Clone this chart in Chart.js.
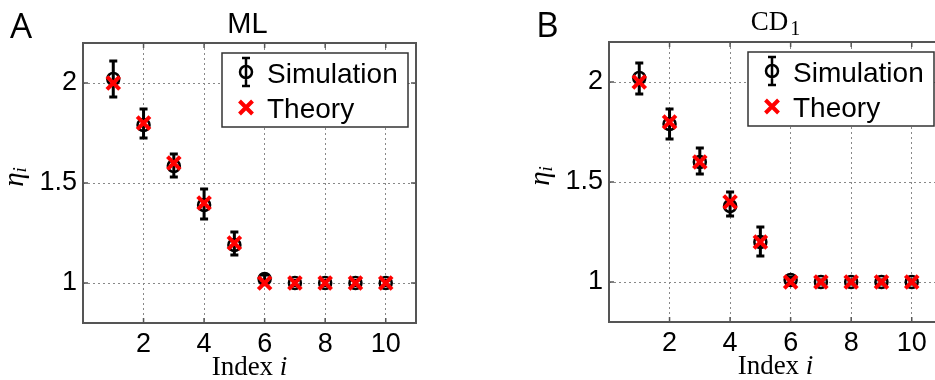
<!DOCTYPE html>
<html>
<head>
<meta charset="utf-8">
<script src="https://cdn.jsdelivr.net/npm/chart.js@4"></script>
<style>
  html, body { margin: 0; padding: 0; background: #fff; overflow: hidden; }
  body { width: 935px; height: 380px; position: relative; }
  canvas { position: absolute; }
  #chartA { left: 0; top: 0; }
  #chartB { left: 526px; top: -1px; }
</style>
</head>
<body>
<canvas id="chartA" width="470" height="380"></canvas>
<canvas id="chartB" width="470" height="380"></canvas>
<script>
// Data
const indexValues = [1, 2, 3, 4, 5, 6, 7, 8, 9, 10];
const theoryValues = [2, 1.8, 1.6, 1.4, 1.2, 1, 1, 1, 1, 1];

// ML simulation: mean and error bar ends
const mlMean = [2.02, 1.79, 1.585, 1.39, 1.19, 1.02, 1, 1, 1, 1];
const mlLow  = [1.93, 1.725, 1.53, 1.32, 1.14, 1.0, 0.988, 0.988, 0.988, 0.988];
const mlHigh = [2.11, 1.87, 1.645, 1.47, 1.255, 1.04, 1.012, 1.012, 1.012, 1.012];

// CD1 simulation
const cdMean = [2.02, 1.79, 1.6, 1.38, 1.2, 1.01, 1, 1, 1, 1];
const cdLow  = [1.94, 1.715, 1.54, 1.33, 1.13, 0.995, 0.99, 0.99, 0.99, 0.99];
const cdHigh = [2.095, 1.865, 1.67, 1.45, 1.275, 1.025, 1.01, 1.01, 1.01, 1.01];

const xTicks = [2, 4, 6, 8, 10];
const yTicks = [1, 1.5, 2];
const legendLabels = ["Simulation", "Theory"];

const RED = "#ff0000";

// error bars + frame, drawn under the markers
const panelPlugin = {
  id: "panel",
  beforeDatasetsDraw(chart, args, opts) {
    const ctx = chart.ctx;
    const xs = chart.scales.x, ys = chart.scales.y;
    const a = chart.chartArea;
    ctx.save();
    // frame
    ctx.strokeStyle = "#555";
    ctx.lineWidth = 2;
    ctx.strokeRect(a.left, a.top, a.right - a.left, a.bottom - a.top);
    // inward ticks
    ctx.lineWidth = 1.5;
    ctx.beginPath();
    xTicks.forEach(v => {
      const px = xs.getPixelForValue(v);
      ctx.moveTo(px, a.bottom); ctx.lineTo(px, a.bottom - 5);
      ctx.moveTo(px, a.top); ctx.lineTo(px, a.top + 5);
    });
    yTicks.forEach(v => {
      const py = ys.getPixelForValue(v);
      ctx.moveTo(a.left, py); ctx.lineTo(a.left + 5, py);
      ctx.moveTo(a.right, py); ctx.lineTo(a.right - 5, py);
    });
    ctx.stroke();
    // error bars
    ctx.strokeStyle = "#000";
    ctx.lineWidth = 3;
    ctx.beginPath();
    opts.low.forEach((lo, i) => {
      const px = xs.getPixelForValue(indexValues[i]);
      const y1 = ys.getPixelForValue(lo);
      const y2 = ys.getPixelForValue(opts.high[i]);
      ctx.moveTo(px, y1); ctx.lineTo(px, y2);
      ctx.moveTo(px - 4, y1); ctx.lineTo(px + 4, y1);
      ctx.moveTo(px - 4, y2); ctx.lineTo(px + 4, y2);
    });
    ctx.stroke();
    ctx.restore();
  },
  afterDraw(chart, args, opts) {
    const ctx = chart.ctx;
    const a = chart.chartArea;
    ctx.save();
    // panel letter
    ctx.fillStyle = "#000";
    ctx.font = "35px 'Open Sans'";
    ctx.textAlign = "left";
    ctx.textBaseline = "alphabetic";
    ctx.fillText(opts.letter, 10, 38);
    // title
    const cx = (a.left + a.right) / 2;
    if (opts.sub) {
      ctx.font = "27px 'Liberation Serif'";
      const w1 = ctx.measureText(opts.title).width;
      ctx.font = "20px 'Liberation Serif'";
      const w2 = ctx.measureText(opts.sub).width;
      const x0 = cx - (w1 + w2 + 2) / 2;
      ctx.font = "27px 'Liberation Serif'";
      ctx.fillText(opts.title, x0, 31);
      ctx.font = "20px 'Liberation Serif'";
      ctx.fillText(opts.sub, x0 + w1 + 2, 36);
    } else {
      ctx.font = "29px 'Liberation Sans'";
      ctx.textAlign = "center";
      ctx.fillText(opts.title, cx - 2, 33);
    }
    // x title: Index i
    ctx.textAlign = "left";
    ctx.font = "27px 'Liberation Serif'";
    const wi = ctx.measureText("Index ").width;
    ctx.font = "italic 27px 'Liberation Serif'";
    const wj = ctx.measureText("i").width;
    const xt = cx - (wi + wj) / 2;
    ctx.font = "27px 'Liberation Serif'";
    ctx.fillText("Index ", xt, 375);
    ctx.font = "italic 27px 'Liberation Serif'";
    ctx.fillText("i", xt + wi, 375);
    // y title: eta_i, rotated
    ctx.save();
    ctx.translate(23, 177);
    ctx.rotate(-Math.PI / 2);
    ctx.font = "italic 29px 'Liberation Serif'";
    const we = ctx.measureText("\u03b7").width;
    ctx.font = "italic 19px 'Liberation Serif'";
    const ws = ctx.measureText("i").width;
    ctx.font = "italic 29px 'Liberation Serif'";
    ctx.fillText("\u03b7", -(we + ws) / 2, 0);
    ctx.font = "italic 19px 'Liberation Serif'";
    ctx.fillText("i", -(we + ws) / 2 + we, 3);
    ctx.restore();
    // legend box
    const bx = a.right - 194, by = a.top + 10, bw = 186, bh = 74;
    ctx.fillStyle = "#fff";
    ctx.fillRect(bx, by, bw, bh);
    ctx.strokeStyle = "#333";
    ctx.lineWidth = 1.5;
    ctx.strokeRect(bx, by, bw, bh);
    const sx = bx + 24;
    // simulation symbol
    ctx.strokeStyle = "#000";
    ctx.lineWidth = 2.5;
    ctx.beginPath();
    ctx.arc(sx, by + 19, 6, 0, Math.PI * 2);
    ctx.moveTo(sx, by + 5); ctx.lineTo(sx, by + 33);
    ctx.moveTo(sx - 4, by + 5); ctx.lineTo(sx + 4, by + 5);
    ctx.moveTo(sx - 4, by + 33); ctx.lineTo(sx + 4, by + 33);
    ctx.stroke();
    // theory symbol
    ctx.strokeStyle = RED;
    ctx.lineWidth = 4;
    ctx.beginPath();
    ctx.moveTo(sx - 6.5, by + 48); ctx.lineTo(sx + 6.5, by + 61);
    ctx.moveTo(sx + 6.5, by + 48); ctx.lineTo(sx - 6.5, by + 61);
    ctx.stroke();
    ctx.fillStyle = "#000";
    ctx.font = "28px 'Liberation Sans'";
    ctx.fillText(legendLabels[0], bx + 45, by + 30);
    ctx.fillText(legendLabels[1], bx + 45, by + 65);
    ctx.restore();
  }
};

function makePanel(id, letter, title, sub, mean, low, high) {
  return new Chart(id, {
    type: "scatter",
    data: {
      datasets: [
        {
          label: legendLabels[0],
          data: indexValues.map((x, i) => ({ x: x, y: mean[i] })),
          pointStyle: "circle",
          pointRadius: 6,
          borderWidth: 2.5,
          borderColor: "#000",
          backgroundColor: "rgba(0,0,0,0)",
          order: 1
        },
        {
          label: legendLabels[1],
          data: indexValues.map((x, i) => ({ x: x, y: theoryValues[i] })),
          pointStyle: "crossRot",
          pointRadius: 9,
          borderWidth: 4,
          borderColor: RED,
          backgroundColor: RED,
          order: 0
        }
      ]
    },
    options: {
      responsive: false,
      animation: false,
      events: [],
      layout: { padding: { top: 43, right: 54, left: 0, bottom: 0 } },
      plugins: {
        legend: { display: false },
        tooltip: { enabled: false },
        panel: { letter: letter, title: title, sub: sub, low: low, high: high }
      },
      scales: {
        x: {
          type: "linear",
          min: 0, max: 11,
          afterBuildTicks: s => { s.ticks = xTicks.map(v => ({ value: v })); },
          afterFit: s => { s.height = 57; },
          grid: { color: "#888", lineWidth: 1, drawTicks: false },
          border: { display: false, dash: [2, 3] },
          ticks: {
            padding: 5,
            color: "#000",
            font: { family: "'Liberation Sans'", size: 27 },
            maxRotation: 0
          }
        },
        y: {
          type: "linear",
          min: 0.8, max: 2.2,
          afterBuildTicks: s => { s.ticks = yTicks.map(v => ({ value: v })); },
          afterFit: s => { s.width = 83; },
          grid: { color: "#888", lineWidth: 1, drawTicks: false },
          border: { display: false, dash: [2, 3] },
          ticks: {
            padding: 6,
            color: "#000",
            font: { family: "'Liberation Sans'", size: 27 },
            callback: v => String(v)
          }
        }
      }
    },
    plugins: [panelPlugin]
  });
}

makePanel("chartA", "A", "ML", null, mlMean, mlLow, mlHigh);
makePanel("chartB", "B", "CD", "1", cdMean, cdLow, cdHigh);
</script>
</body>
</html>
